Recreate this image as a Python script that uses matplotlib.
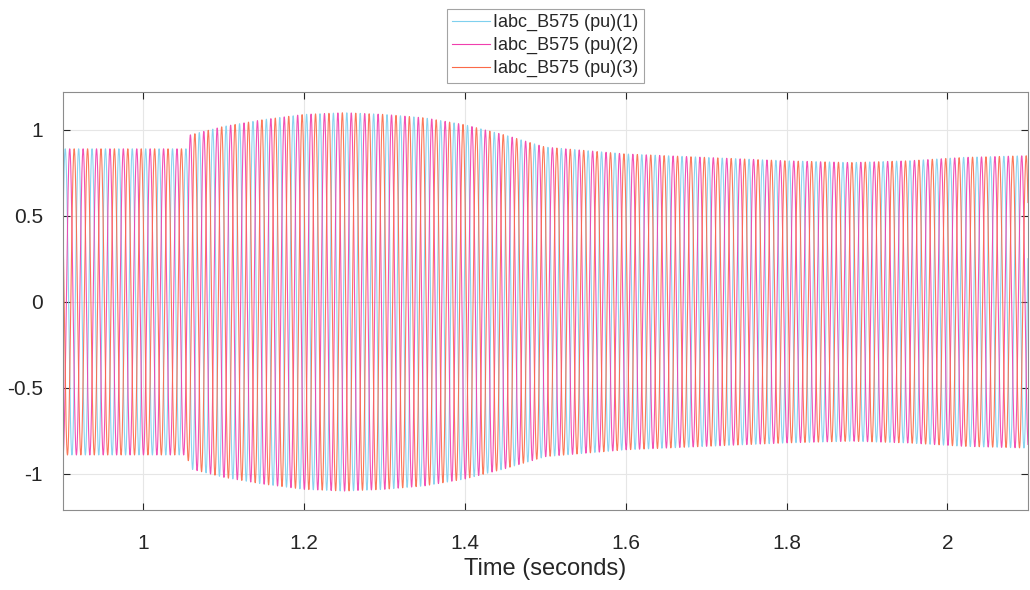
import numpy as np
import matplotlib
matplotlib.use('Agg')
import matplotlib.pyplot as plt

plt.rcParams['font.family'] = ['Liberation Sans', 'DejaVu Sans']

# envelope of the phase currents (pu)
env_t = [0.9, 1.055, 1.058, 1.10, 1.15, 1.20, 1.25, 1.30, 1.35, 1.40, 1.45,
         1.50, 1.60, 1.70, 1.80, 1.88, 1.95, 2.02, 2.1]
env_a = [0.89, 0.89, 0.97, 1.02, 1.06, 1.09, 1.10, 1.09, 1.07, 1.03, 0.97,
         0.90, 0.86, 0.84, 0.82, 0.81, 0.82, 0.84, 0.85]
freq = 60.0
phase_deg = [0, -120, 120]
labels = ['Iabc_B575 (pu)(1)', 'Iabc_B575 (pu)(2)', 'Iabc_B575 (pu)(3)']
colors = ['#7fd0ee', '#f03fae', '#fb6a48']

t = np.arange(0.9, 2.1, 1 / 20000)
amp = np.interp(t, env_t, env_a)

fig = plt.figure(figsize=(10.3, 5.9), dpi=100)
ax = fig.add_axes([0.0607, 0.1356, 0.9373, 0.7084])

for ph, lab, c in zip(phase_deg, labels, colors):
    y = amp * np.sin(2 * np.pi * freq * t + np.deg2rad(ph) + 0.3)
    ax.plot(t, y, color=c, lw=0.8, alpha=0.9, label=lab)

ax.set_xlim(0.9, 2.1)
ax.set_ylim(-1.21, 1.22)
ax.set_xticks([1, 1.2, 1.4, 1.6, 1.8, 2])
ax.set_xticklabels(['1', '1.2', '1.4', '1.6', '1.8', '2'])
ax.set_yticks([-1, -0.5, 0, 0.5, 1])
ax.set_yticklabels(['-1', '-0.5', '0', '0.5', '1'])
ax.grid(True, color='#e6e6e6', lw=0.8)
ax.set_axisbelow(True)
for s in ax.spines.values():
    s.set_color('#8c8c8c')
    s.set_linewidth(0.8)
ax.tick_params(colors='#262626', labelsize=15, direction='in', length=5,
               top=True, right=True)
ax.tick_params(axis='y', pad=14)
ax.tick_params(axis='x', pad=17)
ax.set_xlabel('Time (seconds)', fontsize=17, color='#262626', labelpad=4)

leg = ax.legend(loc='lower center', bbox_to_anchor=(0.5, 1.022), fontsize=13,
                frameon=True, fancybox=False, handlelength=2.1,
                handletextpad=0.15, borderpad=0.3, labelspacing=0.33,
                borderaxespad=0)
leg.get_frame().set_edgecolor('#8c8c8c')
leg.get_frame().set_linewidth(0.8)
for h in leg.get_lines():
    h.set_alpha(1)
for txt in leg.get_texts():
    txt.set_color('#262626')

fig.savefig('out.png', dpi=100)
